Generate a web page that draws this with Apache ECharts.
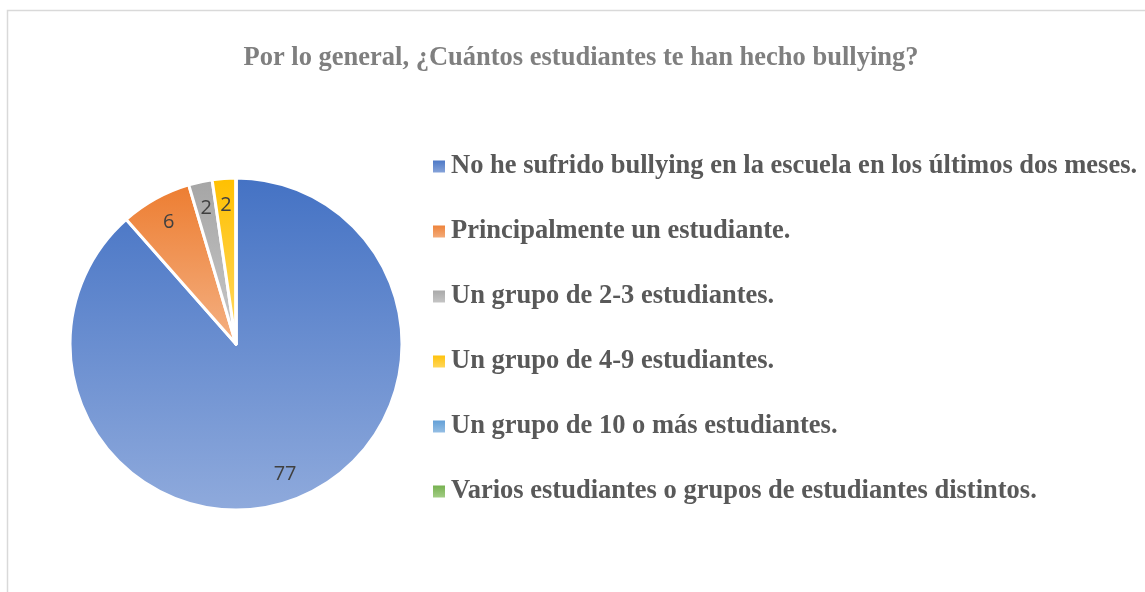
<!DOCTYPE html>
<html>
<head>
<meta charset="utf-8">
<script src="https://cdn.jsdelivr.net/npm/echarts@6/dist/echarts.min.js"></script>
<style>
  html, body { margin: 0; padding: 0; background: #fff; }
  #chart { width: 1145px; height: 592px; }
</style>
</head>
<body>
<div id="chart"></div>
<script>
var titleText = 'Por lo general, ¿Cuántos estudiantes te han hecho bullying?';
var categories = [
  'No he sufrido bullying en la escuela en los últimos dos meses.',
  'Principalmente un estudiante.',
  'Un grupo de 2-3 estudiantes.',
  'Un grupo de 4-9 estudiantes.',
  'Un grupo de 10 o más estudiantes.',
  'Varios estudiantes o grupos de estudiantes distintos.'
];
var values = [77, 6, 2, 2, 0, 0];
// top / bottom colours of each slice gradient
var colorsTop = ['#4472c4', '#ed7d31', '#a5a5a5', '#ffc000', '#5b9bd5', '#70ad47'];
var colorsBottom = ['#8faadc', '#f4b183', '#c9c9c9', '#ffd966', '#9dc3e6', '#a9d18e'];

function grad(i) {
  return new echarts.graphic.LinearGradient(0, 0, 0, 1, [
    { offset: 0, color: colorsTop[i] },
    { offset: 1, color: colorsBottom[i] }
  ]);
}

var pieData = categories.map(function (c, i) {
  return { name: c, value: values[i], itemStyle: { color: grad(i) } };
});
var labelData = categories.map(function (c, i) {
  return { name: c, value: values[i] };
});

var chart = echarts.init(document.getElementById('chart'));
chart.setOption({
  animation: false,
  graphic: [{
    type: 'rect',
    shape: { x: 7.5, y: 10.5, width: 1160, height: 600 },
    style: { fill: 'none', stroke: '#d9d9d9', lineWidth: 1.5 },
    silent: true
  }],
  title: {
    text: titleText,
    left: 576,
    textAlign: 'center',
    top: 40,
    textStyle: {
      fontFamily: 'Liberation Serif',
      fontWeight: 'bold',
      fontSize: 26.5,
      color: '#7f7f7f'
    }
  },
  legend: {
    orient: 'vertical',
    left: 426,
    top: 148,
    itemWidth: 14,
    itemHeight: 14,
    itemGap: 38,
    icon: 'rect',
    selectedMode: false,
    data: categories,
    textStyle: {
      fontFamily: 'Liberation Serif',
      fontWeight: 'bold',
      fontSize: 26.5,
      lineHeight: 26,
      color: '#595959'
    }
  },
  series: [{
    type: 'pie',
    center: [236, 344],
    radius: [0, 166],
    startAngle: 90,
    clockwise: true,
    avoidLabelOverlap: false,
    itemStyle: { borderColor: '#ffffff', borderWidth: 3 },
    label: { show: false },
    labelLine: { show: false },
    emphasis: { disabled: true },
    data: pieData
  }, {
    type: 'pie',
    center: [236, 344],
    radius: [106, 166],
    startAngle: 90,
    clockwise: true,
    silent: true,
    avoidLabelOverlap: false,
    legendHoverLink: false,
    itemStyle: { color: 'rgba(0,0,0,0)', borderWidth: 0 },
    label: {
      show: true,
      position: 'inside',
      fontFamily: 'Open Sans',
      fontSize: 20,
      color: '#404040',
      formatter: function (p) { return p.value > 0 ? String(p.value) : ''; }
    },
    labelLine: { show: false },
    emphasis: { disabled: true },
    data: labelData
  }]
});
</script>
</body>
</html>
